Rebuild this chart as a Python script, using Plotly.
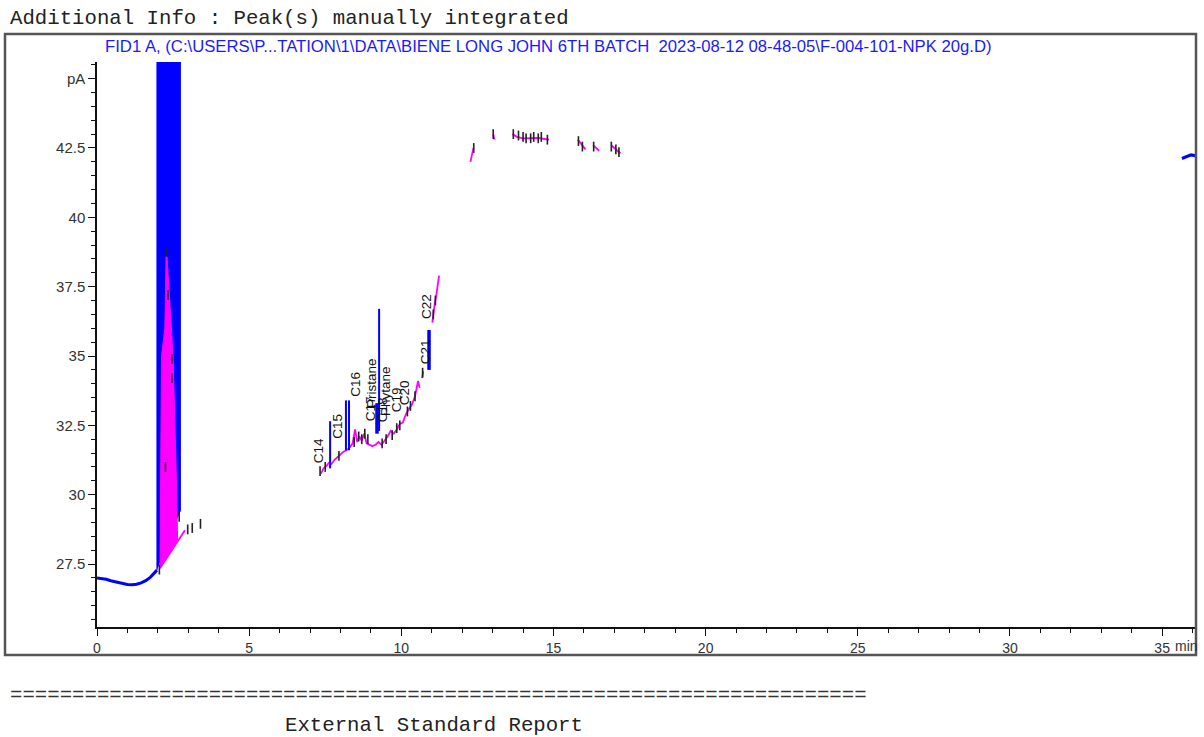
import plotly.graph_objects as go

# ---- FID1 A signal (retention time in min, response in pA) ----

# baseline ahead of the solvent front
base_t = [0.0, 0.15, 0.3, 0.45, 0.6, 0.8, 1.0, 1.15, 1.3, 1.45, 1.6, 1.75, 1.9, 1.97]
base_pa = [27.0, 26.98, 26.95, 26.9, 26.86, 26.8, 26.76, 26.75, 26.77, 26.82, 26.9, 27.02, 27.18, 27.28]

# solvent cluster, off scale
solv_t = [1.97, 1.97, 2.74, 2.74]
solv_pa = [27.28, 60.0, 60.0, 29.4]

# integrated solvent area and its drawn baseline
area_t = [2.07, 2.08, 2.12, 2.23, 2.27, 2.30, 2.43, 2.50, 2.60, 2.65, 2.65]
area_pa = [27.35, 30.0, 35.0, 36.0, 38.6, 38.6, 36.0, 35.0, 31.0, 28.6, 28.33]
sbase_t = [2.07, 2.89]
sbase_pa = [27.35, 28.72]

# alkane region C14 - C22
alk_t = [7.35, 7.45, 7.55, 7.62, 7.70, 7.80, 7.90, 8.00, 8.10, 8.20, 8.30, 8.40, 8.48,
         8.55, 8.62, 8.70, 8.78, 8.86, 8.95, 9.05, 9.15, 9.25, 9.35, 9.45, 9.55, 9.65,
         9.75, 9.85, 9.95, 10.05, 10.15, 10.25, 10.35, 10.45, 10.55, 10.60,
         None, 10.68, 10.72,
         None, 11.02, 11.06, 11.10, 11.15, 11.20, 11.24]
alk_pa = [30.75, 30.95, 31.05, 31.15, 31.1, 31.25, 31.35, 31.45, 31.55, 31.6, 31.7, 31.85, 32.35,
          31.9, 32.1, 31.95, 32.2, 31.85, 31.8, 31.75, 31.8, 31.9, 31.8, 31.95, 32.1, 32.3,
          32.2, 32.35, 32.55, 32.6, 32.9, 33.1, 33.25, 33.55, 34.1, 33.85,
          None, 34.2, 34.45,
          None, 36.2, 36.6, 36.9, 37.2, 37.6, 37.9]

# late eluting fragments
late_t = [12.27, 12.37, None, 13.02, 13.06, None, 13.65, 13.8, 14.0, 14.2, 14.5, 14.85,
          None, 15.8, 15.93, 16.05, None, 16.3, 16.4, 16.5, None, 16.9, 17.05, 17.2]
late_pa = [42.0, 42.5, None, 43.0, 42.8, None, 43.0, 42.9, 42.85, 42.85, 42.86, 42.8,
           None, 42.8, 42.6, 42.45, None, 42.6, 42.5, 42.4, None, 42.6, 42.45, 42.3]

# end of run
tail_t = [35.65, 35.8, 35.95, 36.1]
tail_pa = [42.12, 42.2, 42.25, 42.22]

# peaks drawn in signal colour: apex time, low and high response, stroke width
pk_t = [7.66, 8.18, 8.28, 9.20, 9.27, 10.91]
pk_lo = [30.95, 31.6, 31.6, 32.2, 32.3, 34.5]
pk_hi = [32.65, 33.4, 33.4, 33.3, 36.7, 35.94]
pk_w = [2, 2, 2, 3.5, 2, 3.5]

# peak start / end marks
hatch_t = [2.05, 2.30, 2.33, 2.46, 2.46, 2.25, 2.70, 2.98, 3.13, 3.40,
           7.33, 7.50, 7.95, 8.45, 8.60, 8.70, 8.80, 8.90, 9.37, 9.50, 9.70, 9.85, 9.95,
           10.20, 10.30, 10.45, 10.70, 11.05, 11.12,
           12.38, 13.02, 13.68, 13.85, 14.0, 14.1, 14.25, 14.35, 14.5, 14.6, 14.8,
           15.82, 15.95, 16.32, 16.9, 17.05, 17.15]
hatch_pa = [27.3, 38.75, 37.2, 34.9, 34.2, 31.0, 29.2, 28.75, 28.8, 28.95,
            30.85, 31.0, 31.4, 31.9, 32.1, 32.0, 32.2, 32.0, 31.85, 32.0, 32.15, 32.4, 32.5,
            33.0, 33.2, 33.55, 34.4, 36.5, 37.0,
            42.5, 43.0, 43.0, 42.95, 42.9, 42.85, 42.85, 42.9, 42.85, 42.9, 42.8,
            42.75, 42.55, 42.55, 42.55, 42.45, 42.35]

# compound labels
lab_text = ["C14", "C15", "C16", "C17", "Pristane", "C18", "Phytane", "C19", "C20", "C21", "C22"]
lab_t = [7.26, 7.92, 8.51, 8.97, 9.0, 9.37, 9.5, 9.83, 10.09, 10.78, 10.81]
lab_pa = [31.6, 32.45, 34.0, 33.12, 34.02, 33.05, 33.74, 33.41, 33.66, 35.14, 36.8]

# axis ticks
x_ticks = [0, 5, 10, 15, 20, 25, 30, 35]
x_tick_text = ["0", "5", "10", "15", "20", "25", "30", "35"]
y_ticks = [27.5, 30, 32.5, 35, 37.5, 40, 42.5, 45]
y_tick_text = ["27.5", "30", "32.5", "35", "37.5", "40", "42.5", "pA"]

BLUE = "#0000ff"
PINK = "#ff00ff"
SANS = "Liberation Sans, Arial"

fig = go.Figure()

fig.add_trace(go.Scatter(x=base_t, y=base_pa, mode="lines",
                         line=dict(color=BLUE, width=3), hoverinfo="skip"))
fig.add_trace(go.Scatter(x=solv_t, y=solv_pa, mode="lines", fill="toself",
                         fillcolor=BLUE, line=dict(color=BLUE, width=1), hoverinfo="skip"))
fig.add_trace(go.Scatter(x=area_t, y=area_pa, mode="lines", fill="toself",
                         fillcolor=PINK, line=dict(color=PINK, width=1), hoverinfo="skip"))
fig.add_trace(go.Scatter(x=sbase_t, y=sbase_pa, mode="lines",
                         line=dict(color=PINK, width=1.8), hoverinfo="skip"))
fig.add_trace(go.Scatter(x=alk_t, y=alk_pa, mode="lines",
                         line=dict(color=PINK, width=1.8), hoverinfo="skip"))
fig.add_trace(go.Scatter(x=late_t, y=late_pa, mode="lines",
                         line=dict(color=PINK, width=1.8), hoverinfo="skip"))
fig.add_trace(go.Scatter(x=tail_t, y=tail_pa, mode="lines",
                         line=dict(color=BLUE, width=3), hoverinfo="skip"))

for t, lo, hi, w in zip(pk_t, pk_lo, pk_hi, pk_w):
    fig.add_trace(go.Scatter(x=[t, t], y=[lo, hi], mode="lines",
                             line=dict(color=BLUE, width=w), hoverinfo="skip"))

fig.add_trace(go.Scatter(x=hatch_t, y=hatch_pa, mode="markers",
                         marker=dict(symbol="line-ns-open", size=7, color="#222222",
                                     line=dict(color="#222222", width=1.6)),
                         hoverinfo="skip"))

for txt, t, pa in zip(lab_text, lab_t, lab_pa):
    fig.add_annotation(x=t, y=pa, text=txt, showarrow=False, textangle=-90,
                       font=dict(family=SANS, size=13.5, color="#111111"))

# page-level text (paper coords: plot area spans 97..1195 px, 62..627 px)
def px(xp):
    return (xp - 97) / 1098.0


def py(yp):
    return (627 - yp) / 565.0


mono = "Liberation Mono, Courier New, monospace"
fig.add_annotation(xref="paper", yref="paper", x=px(8), y=py(18), xanchor="left",
                   yanchor="middle", showarrow=False,
                   text="Additional Info : Peak(s) manually integrated",
                   font=dict(family=mono, size=20.7, color="#222222"))
fig.add_annotation(xref="paper", yref="paper", x=px(103), y=py(46), xanchor="left",
                   yanchor="middle", showarrow=False,
                   text="FID1 A, (C:\\USERS\\P...TATION\\1\\DATA\\BIENE LONG JOHN 6TH BATCH\u00a0\u00a02023-08-12 08-48-05\\F-004-101-NPK 20g.D)",
                   font=dict(family=SANS, size=16.7, color="#1a1aff"))
fig.add_annotation(xref="paper", yref="paper", x=px(1173), y=py(646), xanchor="left",
                   yanchor="middle", showarrow=False, text="min",
                   font=dict(family=SANS, size=14, color="#333333"))
fig.add_annotation(xref="paper", yref="paper", x=px(8), y=py(695), xanchor="left",
                   yanchor="middle", showarrow=False, text="=" * 69,
                   font=dict(family=mono, size=20.7, color="#333333"))
fig.add_annotation(xref="paper", yref="paper", x=px(283), y=py(725), xanchor="left",
                   yanchor="middle", showarrow=False, text="External Standard Report",
                   font=dict(family=mono, size=20.7, color="#222222"))

# report frame
fig.add_shape(type="rect", xref="paper", yref="paper",
              x0=px(5), x1=px(1196), y0=py(655), y1=py(34),
              line=dict(color="#555555", width=2.5), fillcolor="rgba(0,0,0,0)", layer="above")

fig.update_layout(
    width=1204, height=737,
    margin=dict(l=97, r=9, t=62, b=110),
    plot_bgcolor="white", paper_bgcolor="white",
    showlegend=False,
    xaxis=dict(range=[0, 36.08], showgrid=False, zeroline=False, showline=True,
               linecolor="#111111", linewidth=1.5, ticks="outside", ticklen=7,
               tickcolor="#111111", tickwidth=1.2, tickmode="array",
               tickvals=x_ticks, ticktext=x_tick_text,
               tickfont=dict(family=SANS, size=14, color="#333333"),
               minor=dict(tickmode="linear", tick0=0, dtick=1, ticks="outside",
                          ticklen=4, tickcolor="#111111", tickwidth=1.2)),
    yaxis=dict(range=[25.23, 45.6], showgrid=False, zeroline=False, showline=True,
               linecolor="#111111", linewidth=1.5, ticks="outside", ticklen=7,
               tickcolor="#111111", tickwidth=1.2, tickmode="array",
               tickvals=y_ticks, ticktext=y_tick_text,
               tickfont=dict(family=SANS, size=15, color="#333333"),
               minor=dict(tickmode="linear", tick0=0, dtick=0.5, ticks="outside",
                          ticklen=4, tickcolor="#111111", tickwidth=1.2)),
)

fig.write_html("out.html")
